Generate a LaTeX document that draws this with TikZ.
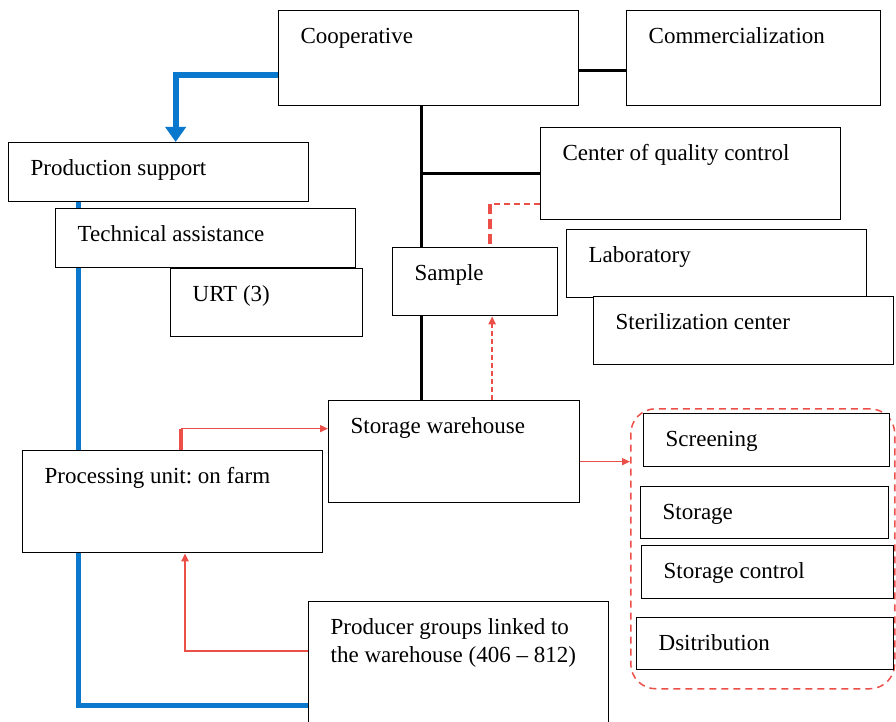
\documentclass[tikz,border=0pt]{standalone}
\usepackage{fontspec}
\setmainfont{Liberation Serif}
\usetikzlibrary{arrows.meta, backgrounds}
\definecolor{flowblue}{RGB}{10, 120, 205}
\definecolor{flowred}{RGB}{232, 48, 40}

\begin{document}
\begin{tikzpicture}[
  x=1pt, y=-1pt,
  box/.style 2 args={draw, line width=1.3pt, fill=white, anchor=north west, align=left,
    inner xsep=22pt, inner ysep=0pt, text width={(#1-44)*1pt},
    text height=33pt, text depth={(#2-33)*1pt}, font=\fontsize{23}{28}\selectfont,
    execute at begin node={\frenchspacing\spaceskip=0pt\relax}},
  spine/.style={line width=3pt, black},
  blueline/.style={line width=5pt, flowblue},
  redline/.style={line width=1.3pt, flowred!85},
  redtip/.style={-{Triangle[length=8pt, width=7pt]}}
]
  \useasboundingbox (0,0) rectangle (896,722);

  % top row
  \node[box={300}{95}] (coop) at (278,10) {Cooperative};
  \node[box={254}{95}] (comm) at (626,10) {Commercialization};

  % quality control branch
  \node[box={300}{92}] (qc) at (540,127) {Center of quality control};
  \node[box={300}{68}] (lab) at (566,229) {Laboratory};
  \node[box={300}{68}] (ster) at (593,296) {Sterilization center};
  \node[box={165}{68}] (sample) at (392,247) {Sample};

  % production support branch
  \node[box={300}{59}] (prod) at (8,142) {Production support};
  \node[box={300}{59}] (tech) at (55,208) {Technical assistance};
  \node[box={192}{68}] (urt) at (170,268) {URT (3)};

  % warehouse and farm level
  \node[box={251}{102}] (ware) at (328,400) {Storage warehouse};
  \node[box={300}{102}] (proc) at (22,450) {Processing unit: on farm};
  \node[box={300}{125}] (groups) at (308,601) {Producer groups linked to\\the warehouse (406 -- 812)};

  % warehouse tasks
  \node[draw=flowred!85, dashed, line width=1.5pt, dash pattern=on 7pt off 5pt,
    rounded corners=25pt, anchor=north west, minimum width=264pt, minimum height=280pt,
    inner sep=0pt] (tasks) at (630,408) {};
  \node[box={246}{53}] (screen) at (643,413) {Screening};
  \node[box={248}{52}] (store) at (640,486) {Storage};
  \node[box={252}{53}] (sctrl) at (641,545) {Storage control};
  \node[box={257}{52}] (distr) at (636,617) {Dsitribution};

  \coordinate (top) at ([xshift=-7pt]coop.south);
  \coordinate (qw) at ([yshift=-30pt]qc.west);
  \coordinate (qs) at ([xshift=15pt]sample.north);
  \coordinate (sb) at ([xshift=17pt]sample.south);
  \coordinate (pw) at ([yshift=23pt]ware.west);
  \coordinate (ps) at ([xshift=159pt]proc.north west);
  \coordinate (ce) at ([yshift=-12pt]coop.east);

  \begin{pgfonlayer}{background}
    \draw[spine] (ce) -- (ce -| comm.west);
    \draw[spine] (top) -- (top |- ware.north);
    \draw[spine] (top |- qc.west) -- (qc.west);

    \draw[line width=6pt, flowblue, -{Triangle[length=15pt, width=20pt]}]
      ([yshift=-17pt]coop.west) -| ([xshift=17pt]prod.north);
    \draw[blueline] ([xshift=70pt]prod.south west) |- ([yshift=-41pt]groups.west);

    \draw[redline, line width=2pt, dash pattern=on 6pt off 4pt] (qw) -- (qw -| qs);
    \draw[redline, line width=3.5pt, dash pattern=on 10pt off 5pt] (qw -| qs) -- (qs);
    \draw[redline, line width=2pt, redtip, dash pattern=on 5pt off 3pt] (sb |- ware.north) -- (sb);

    \draw[redline, line width=3.5pt] (ps) -- (ps |- pw);
    \draw[redline, redtip] (ps |- pw) -- (pw);
    \draw[redline, line width=2.5pt, redtip]
      ([yshift=13pt]groups.west) -| ([xshift=163pt]proc.south west);
    \draw[redline, redtip] ([yshift=-10pt]ware.east) -- ([yshift=-10pt]ware.east -| tasks.west);
  \end{pgfonlayer}
\end{tikzpicture}
\end{document}
